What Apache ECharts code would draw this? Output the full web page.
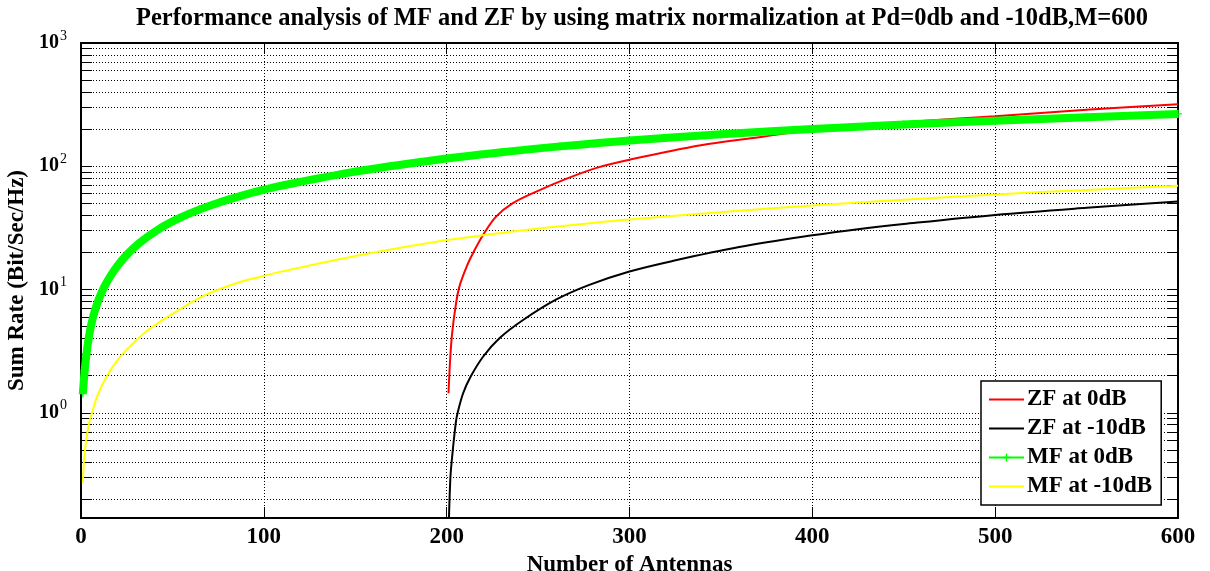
<!DOCTYPE html>
<html>
<head>
<meta charset="utf-8">
<script src="https://cdn.jsdelivr.net/npm/echarts@6/dist/echarts.min.js"></script>
<style>
  html, body { margin: 0; padding: 0; background: #fff; }
  #chart { width: 1210px; height: 571px; }
</style>
</head>
<body>
<div id="chart"></div>
<script>
// Number of antennas (x) and sum rate in Bit/Sec/Hz (y) for each scheme
const antennasZF0 = [201, 202, 203, 205, 207, 211, 215, 220, 227, 236, 249, 264, 282, 300, 339, 371, 400, 448, 500, 550, 600];
const rateZF0     = [1.44, 2.86, 4.43, 7.5, 10.6, 15.4, 20.5, 27.8, 39, 50, 62.3, 77.6, 97, 113, 148, 172, 197, 226, 255, 287, 318];

const antennasZF10 = [201, 202, 203, 205, 206, 209, 213, 220, 229, 242, 260, 278, 300, 324, 360, 400, 426, 450, 500, 550, 600];
const rateZF10     = [0.1, 0.29, 0.44, 0.83, 1.0, 1.44, 1.95, 2.86, 4.04, 5.68, 8.3, 10.9, 14, 17.1, 22.1, 27.5, 31, 34, 40.3, 46, 51.7];

const antennasMF0 = [1, 2, 3, 4, 5, 6, 7, 8, 10, 13, 16, 20, 25, 32, 43, 54, 65, 76, 87, 98, 109, 150, 191, 230, 262, 300, 350, 400, 450, 500, 550, 600];
const rateMF0     = [1.43, 2.2, 3.0, 3.85, 4.7, 5.5, 6.3, 7.05, 8.55, 10.7, 12.8, 15.6, 19.1, 23.9, 31.2, 38.1, 44.7, 51.1, 57.3, 63.4, 69.3, 90.5, 111, 130, 145, 162, 182, 200.5, 218, 234, 250, 266];

const antennasMF10 = [1, 2, 4, 6, 9, 14, 21, 28, 36, 45, 54, 65, 76, 87, 98, 109, 150, 191, 230, 262, 300, 360, 400, 450, 500, 550, 600];
const rateMF10     = [0.27, 0.47, 0.77, 1.0, 1.38, 1.97, 2.8, 3.6, 4.6, 5.7, 6.9, 8.6, 10.1, 11.5, 12.7, 13.9, 18.7, 24, 28.8, 32.6, 37, 43.5, 48, 53.5, 59, 64.3, 69.4];

const seriesNames = ['ZF at 0dB', 'ZF at -10dB', 'MF at 0dB', 'MF at -10dB'];
const seriesColors = ['#ff0000', '#000000', '#00ff00', '#ffff00'];

// Axis ranges
const X_MIN = 0, X_MAX = 600, X_STEP = 100;
const Y_MIN = 0.14, Y_MAX = 1000;
const yDecades = [0.1, 1, 10, 100];

const FONT = "'Liberation Serif', 'Times New Roman', serif";
const PLUS = 'path://M0,4.2H10V5.8H0ZM4.2,0H5.8V10H4.2Z';

const pairs = (xs, ys) => xs.map((x, i) => [x, ys[i]]);

// Log-decade minor values (2..9 within each decade)
const minorValues = [];
yDecades.forEach(d => {
  for (let m = 2; m <= 9; m++) {
    const v = +(d * m).toPrecision(3);
    if (v > Y_MIN && v < Y_MAX) minorValues.push(v);
  }
});
const TICK_UNITS = 6; // short inward ticks, in x-axis units
const dotted = { color: '#000', type: [1, 2], width: 1 };
const solidTick = { color: '#000', type: 'solid', width: 1 };
const minorMarks = [];
minorValues.forEach(v => {
  minorMarks.push({ yAxis: v, lineStyle: dotted });
  minorMarks.push([{ coord: [X_MIN, v], lineStyle: solidTick }, { coord: [X_MIN + TICK_UNITS, v] }]);
  minorMarks.push([{ coord: [X_MAX - TICK_UNITS, v], lineStyle: solidTick }, { coord: [X_MAX, v] }]);
});

function decadeLabel(v) {
  const e = Math.log10(v);
  if (Math.abs(e - Math.round(e)) > 1e-6) return '';
  return '{b|10}{e|' + Math.round(e) + '}';
}

const labelFont = { fontFamily: FONT, fontWeight: 'bold', color: '#000' };
const hiddenSymbol = { opacity: 0 };
const SMOOTH = 0.35;

const chart = echarts.init(document.getElementById('chart'), null, { renderer: 'canvas' });

const option = {
  animation: false,
  backgroundColor: '#fff',
  title: {
    text: 'Performance analysis of MF and ZF by using matrix normalization at Pd=0db and -10dB,M=600',
    left: 642,
    top: 6,
    padding: 0,
    textAlign: 'center',
    textStyle: Object.assign({ fontSize: 24.5 }, labelFont)
  },
  legend: {
    orient: 'vertical',
    left: 981,
    top: 381,
    padding: [7, 9, 7, 7],
    itemWidth: 35,
    itemHeight: 10,
    itemGap: 6,
    selectedMode: false,
    backgroundColor: '#fff',
    borderColor: '#000',
    borderWidth: 1.5,
    borderRadius: 0,
    textStyle: Object.assign({ fontSize: 23, padding: [0, 0, 0, -2] }, labelFont),
    data: [
      { name: seriesNames[0], itemStyle: hiddenSymbol },
      { name: seriesNames[1], itemStyle: hiddenSymbol },
      { name: seriesNames[2], lineStyle: { width: 2 } },
      { name: seriesNames[3], itemStyle: hiddenSymbol }
    ]
  },
  grid: {
    left: 81, right: 32, top: 43, bottom: 53,
    containLabel: false,
    outerBoundsMode: 'none'
  },
  xAxis: [
    {
      type: 'value', min: X_MIN, max: X_MAX, interval: X_STEP,
      position: 'bottom',
      name: 'Number of Antennas',
      nameLocation: 'middle',
      nameGap: 23,
      nameTextStyle: Object.assign({ fontSize: 23 }, labelFont),
      axisLine: { show: true, onZero: false, lineStyle: { color: '#000', width: 2 } },
      axisTick: { show: true, inside: true, length: 11, lineStyle: { color: '#000', width: 1 } },
      axisLabel: Object.assign({ fontSize: 23, margin: 8, showMinLabel: true, showMaxLabel: true, hideOverlap: false }, labelFont),
      splitLine: { show: true, lineStyle: dotted }
    },
    {
      type: 'value', min: X_MIN, max: X_MAX, interval: X_STEP,
      position: 'top',
      axisLine: { show: true, onZero: false, lineStyle: { color: '#000', width: 2 } },
      axisTick: { show: true, inside: true, length: 11, lineStyle: { color: '#000', width: 1 } },
      axisLabel: { show: false },
      splitLine: { show: false }
    }
  ],
  yAxis: [
    {
      type: 'log', logBase: 10, min: Y_MIN, max: Y_MAX,
      position: 'left',
      name: 'Sum Rate (Bit/Sec/Hz)',
      nameLocation: 'middle',
      nameGap: 40,
      nameRotate: 90,
      nameTextStyle: Object.assign({ fontSize: 23 }, labelFont),
      axisLine: { show: true, onZero: false, lineStyle: { color: '#000', width: 2 } },
      axisTick: { show: true, inside: true, length: 11, lineStyle: { color: '#000', width: 1 } },
      axisLabel: {
        margin: 14,
        showMinLabel: true, showMaxLabel: true, hideOverlap: false,
        formatter: decadeLabel,
        rich: {
          b: { fontFamily: FONT, fontWeight: 'bold', fontSize: 20, color: '#000', verticalAlign: 'bottom', lineHeight: 20 },
          e: { fontFamily: FONT, fontWeight: 'normal', fontSize: 14, color: '#000', verticalAlign: 'bottom', lineHeight: 14, padding: [0, 0, 10, 1] }
        }
      },
      splitLine: { show: true, lineStyle: dotted },
      minorTick: { show: false },
      minorSplitLine: { show: false }
    },
    {
      type: 'log', logBase: 10, min: Y_MIN, max: Y_MAX,
      position: 'right',
      axisLine: { show: true, onZero: false, lineStyle: { color: '#000', width: 2 } },
      axisTick: { show: true, inside: true, length: 11, lineStyle: { color: '#000', width: 1 } },
      axisLabel: { show: false },
      splitLine: { show: false }
    }
  ],
  series: [
    {
      name: 'minor-grid',
      type: 'line',
      data: [],
      z: 1,
      silent: true,
      markLine: {
        silent: true,
        z: 1,
        animation: false,
        symbol: ['none', 'none'],
        label: { show: false },
        emphasis: { disabled: true },
        data: minorMarks
      }
    },
    {
      name: seriesNames[0], type: 'line', data: pairs(antennasZF0, rateZF0),
      symbol: 'none', smooth: SMOOTH,
      color: seriesColors[0], lineStyle: { color: seriesColors[0], width: 2 }, z: 3
    },
    {
      name: seriesNames[1], type: 'line', data: pairs(antennasZF10, rateZF10),
      symbol: 'none', smooth: SMOOTH,
      color: seriesColors[1], lineStyle: { color: seriesColors[1], width: 2 }, z: 3
    },
    {
      name: seriesNames[2], type: 'line', data: pairs(antennasMF0, rateMF0),
      symbol: PLUS, symbolSize: 8, showSymbol: true, showAllSymbol: true,
      smooth: SMOOTH,
      color: seriesColors[2], itemStyle: { color: seriesColors[2] },
      lineStyle: { color: seriesColors[2], width: 8 }, z: 3
    },
    {
      name: seriesNames[3], type: 'line', data: pairs(antennasMF10, rateMF10),
      symbol: 'none', smooth: SMOOTH,
      color: seriesColors[3], lineStyle: { color: seriesColors[3], width: 2 }, z: 3
    }
  ]
};

chart.setOption(option);
</script>
</body>
</html>
